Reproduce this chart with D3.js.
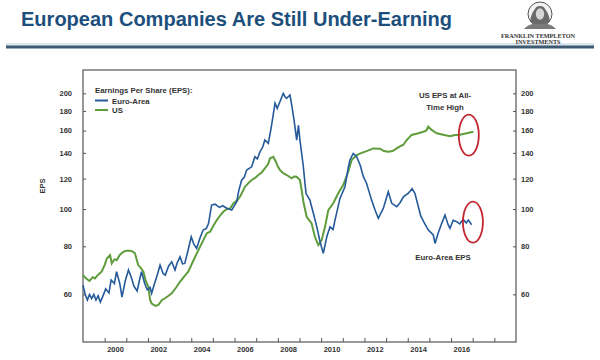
<!DOCTYPE html>
<html>
<head>
<meta charset="utf-8">
<script src="https://cdn.jsdelivr.net/npm/d3@7"></script>
<style>
  html, body { margin: 0; padding: 0; background: #fff; }
  svg { display: block; font-family: "Liberation Sans", Arial, sans-serif; }
</style>
</head>
<body>
<svg id="chart" width="600" height="360"></svg>
<script>
// ---------- data ----------
const euroYears = [1999.0,1999.1,1999.2,1999.3,1999.4,1999.5,1999.6,1999.7,1999.8,1999.9,2000.05,2000.2,2000.3,2000.45,2000.55,2000.7,2000.8,2000.95,2001.1,2001.25,2001.35,2001.5,2001.6,2001.7,2001.85,2001.97,2002.1,2002.17,2002.33,2002.45,2002.56,2002.7,2002.8,2002.95,2003.1,2003.25,2003.35,2003.48,2003.6,2003.7,2003.85,2004.0,2004.12,2004.25,2004.4,2004.55,2004.7,2004.8,2004.94,2005.1,2005.3,2005.45,2005.64,2005.87,2006.1,2006.2,2006.33,2006.45,2006.56,2006.79,2006.94,2007.05,2007.18,2007.3,2007.4,2007.56,2007.7,2007.8,2007.87,2007.97,2008.1,2008.25,2008.33,2008.4,2008.56,2008.65,2008.75,2008.87,2008.95,2009.02,2009.17,2009.3,2009.48,2009.64,2009.8,2009.95,2010.1,2010.26,2010.41,2010.55,2010.64,2010.87,2011.1,2011.25,2011.33,2011.48,2011.64,2011.8,2011.95,2012.1,2012.33,2012.49,2012.64,2012.87,2013.1,2013.26,2013.49,2013.65,2013.8,2014.03,2014.2,2014.33,2014.49,2014.6,2014.72,2014.95,2015.18,2015.26,2015.4,2015.57,2015.72,2015.87,2015.95,2016.1,2016.26,2016.4,2016.56,2016.7,2016.8,2016.95];
const euroValues = [63.4,60.0,58.0,60.0,58.5,60.0,58.0,59.5,57.3,59.0,62.0,60.5,65.4,64.0,68.7,64.0,59.0,65.0,69.4,66.0,63.0,61.2,65.0,68.7,64.0,61.6,62.5,60.4,64.7,68.0,71.5,68.0,67.3,71.0,72.9,69.4,72.5,75.1,72.0,72.2,78.0,84.7,81.0,79.0,84.0,88.2,89.0,91.8,102.4,103.0,101.0,102.0,100.5,99.4,104.5,112.0,119.0,121.0,126.3,128.8,136.8,135.0,141.0,145.0,151.2,148.2,163.8,178.0,188.5,182.8,190.4,199.8,196.0,194.1,198.0,185.0,170.0,151.2,165.0,151.2,130.0,109.9,105.5,97.5,89.9,82.2,76.7,84.7,89.9,88.5,93.6,106.6,114.3,128.0,134.2,139.5,136.8,130.2,121.4,116.6,105.5,99.4,94.6,100.4,110.9,103.5,101.4,104.0,107.6,110.0,113.0,109.9,101.4,96.0,93.0,88.2,85.6,81.4,86.4,91.8,96.5,90.9,89.1,93.5,92.7,91.5,94.0,92.0,93.6,91.0];

const usYears = [1999.0,1999.15,1999.3,1999.45,1999.55,1999.7,1999.86,2000.0,2000.1,2000.25,2000.33,2000.45,2000.56,2000.7,2000.86,2001.0,2001.17,2001.3,2001.4,2001.55,2001.65,2001.79,2001.9,2002.02,2002.1,2002.17,2002.35,2002.48,2002.65,2002.79,2002.95,2003.1,2003.3,2003.48,2003.65,2003.86,2004.1,2004.33,2004.56,2004.71,2004.87,2005.05,2005.18,2005.35,2005.48,2005.65,2005.8,2005.95,2006.1,2006.25,2006.48,2006.65,2006.79,2006.95,2007.1,2007.25,2007.4,2007.55,2007.64,2007.79,2007.91,2008.0,2008.1,2008.25,2008.41,2008.64,2008.75,2008.87,2009.02,2009.1,2009.18,2009.33,2009.56,2009.71,2009.87,2010.02,2010.18,2010.33,2010.56,2010.79,2011.02,2011.25,2011.41,2011.64,2011.87,2012.1,2012.41,2012.72,2012.9,2013.1,2013.3,2013.49,2013.64,2013.8,2013.95,2014.18,2014.49,2014.72,2014.85,2014.95,2015.1,2015.34,2015.64,2015.95,2016.18,2016.41,2016.72,2017.03];
const usValues = [67.3,66.0,65.0,66.5,66.0,67.5,68.7,71.5,74.4,75.9,72.2,74.0,73.7,76.0,77.4,77.9,77.9,77.5,76.7,71.5,70.5,68.7,65.0,62.8,58.0,56.8,56.0,56.3,58.0,58.6,59.5,60.4,62.5,64.7,66.5,68.7,73.5,78.2,83.0,86.4,87.3,91.0,93.6,96.5,98.4,100.0,100.4,103.5,105.0,107.6,114.3,117.0,119.0,120.5,122.6,124.5,127.6,131.0,135.5,136.8,132.8,129.0,126.3,124.0,122.6,120.2,121.5,121.4,119.0,112.0,104.5,95.5,91.8,84.7,80.6,83.0,89.9,99.4,103.5,109.9,115.4,125.0,134.2,138.2,140.0,141.5,143.8,143.5,141.5,141.0,141.5,143.8,145.5,147.0,151.2,155.9,157.4,158.9,160.0,163.8,160.7,157.4,156.0,154.6,155.9,156.0,157.4,158.9];

const yTickValues = [60, 80, 100, 120, 140, 160, 180, 200];
const xTickYears = [2000, 2001, 2002, 2003, 2004, 2005, 2006, 2007, 2008, 2009, 2010, 2011, 2012, 2013, 2014, 2015, 2016, 2017, 2018];
const xLabelYears = [2000, 2002, 2004, 2006, 2008, 2010, 2012, 2014, 2016];
const seriesNames = ["Euro-Area", "US"];
const titleText = "European Companies Are Still Under-Earning";
// annotation ellipse centres [year, value]
const ellipseCentres = [[2016.82, 155.7], [2017.01, 92.5]];

// ---------- layout ----------
const svg = d3.select("#chart");
const M = { left: 83, right: 516, top: 70, bottom: 342 };
const x = d3.scaleLinear().domain([1999, 2019]).range([M.left, M.right]);
const y = d3.scaleLog().domain([45.1, 230]).range([M.bottom, M.top]);

const BLUE = "#24599a", GREEN = "#5f9c3c", TXT = "#333";

// title
svg.append("text").attr("x", 21).attr("y", 26)
  .attr("font-size", 19.6).attr("font-weight", "bold").attr("fill", "#1d4f7c")
  .attr("textLength", 431).attr("lengthAdjust", "spacingAndGlyphs")
  .text(titleText);

// rule under title
svg.append("rect").attr("x", 6).attr("y", 43).attr("width", 588).attr("height", 3).attr("fill", "#dde7ee");
svg.append("rect").attr("x", 6).attr("y", 45.5).attr("width", 588).attr("height", 3).attr("fill", "#3e5a70");

// logo (engraved medallion portrait)
const logo = svg.append("g");
logo.append("circle").attr("cx", 540).attr("cy", 14).attr("r", 12)
  .attr("fill", "#f2f2f2").attr("stroke", "#555").attr("stroke-width", 1);
logo.append("path")
  .attr("d", "M530,21 C531,15 533,11 535,9 C536,5 544,5 545,9 C547,11 549,15 550,21 C548,24 545,25 540,25 C535,25 532,24 530,21 Z")
  .attr("fill", "#6a6a6a");
logo.append("ellipse").attr("cx", 540).attr("cy", 14).attr("rx", 4.2).attr("ry", 5.8).attr("fill", "#d6d6d6");
logo.append("path").attr("d", "M524,29 C528,24 534,23 540,24 C546,23 552,24 556,29 Z").attr("fill", "#7a7a7a");
logo.append("text").attr("x", 538).attr("y", 38).attr("text-anchor", "middle")
  .attr("font-family", "'Liberation Serif', 'DejaVu Serif', serif").attr("font-weight", "bold")
  .attr("font-size", 6.2).attr("fill", "#333").text("FRANKLIN TEMPLETON");
logo.append("text").attr("x", 538).attr("y", 44).attr("text-anchor", "middle")
  .attr("font-family", "'Liberation Serif', 'DejaVu Serif', serif").attr("font-weight", "bold")
  .attr("font-size", 6.2).attr("fill", "#333").text("INVESTMENTS");

// frame
svg.append("rect").attr("x", M.left).attr("y", M.top)
  .attr("width", M.right - M.left).attr("height", M.bottom - M.top)
  .attr("fill", "none").attr("stroke", "#555").attr("stroke-width", 1.2);

// y axes (ticks inward)
const axisFont = g => g.selectAll("text").attr("font-size", 7.5).attr("font-weight", "bold").attr("fill", TXT);
const yLeft = svg.append("g").attr("transform", `translate(${M.left},0)`)
  .call(d3.axisRight(y).tickValues(yTickValues).tickFormat(d3.format("d")).tickSize(3));
yLeft.select(".domain").remove();
yLeft.selectAll("line").attr("stroke", "#555");
yLeft.selectAll("text").attr("text-anchor", "end").attr("x", -11);
axisFont(yLeft);

const yRight = svg.append("g").attr("transform", `translate(${M.right},0)`)
  .call(d3.axisLeft(y).tickValues(yTickValues).tickFormat(d3.format("d")).tickSize(3));
yRight.select(".domain").remove();
yRight.selectAll("line").attr("stroke", "#555");
yRight.selectAll("text").attr("text-anchor", "start").attr("x", 5);
axisFont(yRight);

// x axis: ticks at year starts, labels at mid-year
const xAx = svg.append("g").attr("transform", `translate(0,${M.bottom})`)
  .call(d3.axisTop(x).tickValues(xTickYears).tickFormat("").tickSize(4));
xAx.select(".domain").remove();
xAx.selectAll("line").attr("stroke", "#555");
svg.append("g").selectAll("text").data(xLabelYears).join("text")
  .attr("x", d => x(d + 0.5)).attr("y", 352).attr("text-anchor", "middle")
  .attr("font-size", 7.5).attr("font-weight", "bold").attr("fill", TXT)
  .text(d => d);

// EPS label
svg.append("text").attr("transform", "translate(45,186) rotate(-90)")
  .attr("text-anchor", "middle").attr("font-size", 7.5).attr("font-weight", "bold").attr("fill", TXT).text("EPS");

// lines
const line = d3.line().x(d => x(d[0])).y(d => y(d[1]));
const usData = usYears.map((t, i) => [t, usValues[i]]);
const euroData = euroYears.map((t, i) => [t, euroValues[i]]);
svg.append("path").datum(usData).attr("d", line)
  .attr("fill", "none").attr("stroke", GREEN).attr("stroke-width", 2);
svg.append("path").datum(euroData).attr("d", line)
  .attr("fill", "none").attr("stroke", BLUE).attr("stroke-width", 1.6);

// legend
svg.append("text").attr("x", 95).attr("y", 93).attr("font-size", 7.8).attr("font-weight", "bold")
  .attr("fill", TXT).text("Earnings Per Share (EPS):");
[BLUE, GREEN].forEach((c, i) => {
  const ly = 100.5 + i * 9.5;
  svg.append("line").attr("x1", 95).attr("x2", 108).attr("y1", ly).attr("y2", ly)
    .attr("stroke", c).attr("stroke-width", 2);
  svg.append("text").attr("x", 112).attr("y", ly + 3).attr("font-size", 7.8).attr("font-weight", "bold")
    .attr("fill", TXT).text(seriesNames[i]);
});

// annotations
const ann = [["US EPS at All-", 445, 98], ["Time High", 445, 109.5], ["Euro-Area EPS", 443, 260]];
ann.forEach(a => svg.append("text").attr("x", a[1]).attr("y", a[2]).attr("text-anchor", "middle")
  .attr("font-size", 7.8).attr("font-weight", "bold").attr("fill", TXT).text(a[0]));

svg.append("g").selectAll("ellipse").data(ellipseCentres).join("ellipse")
  .attr("cx", d => x(d[0])).attr("cy", d => y(d[1])).attr("rx", 10).attr("ry", 20.5)
  .attr("fill", "none").attr("stroke", "#c4262e").attr("stroke-width", 1.8);
</script>
</body>
</html>
